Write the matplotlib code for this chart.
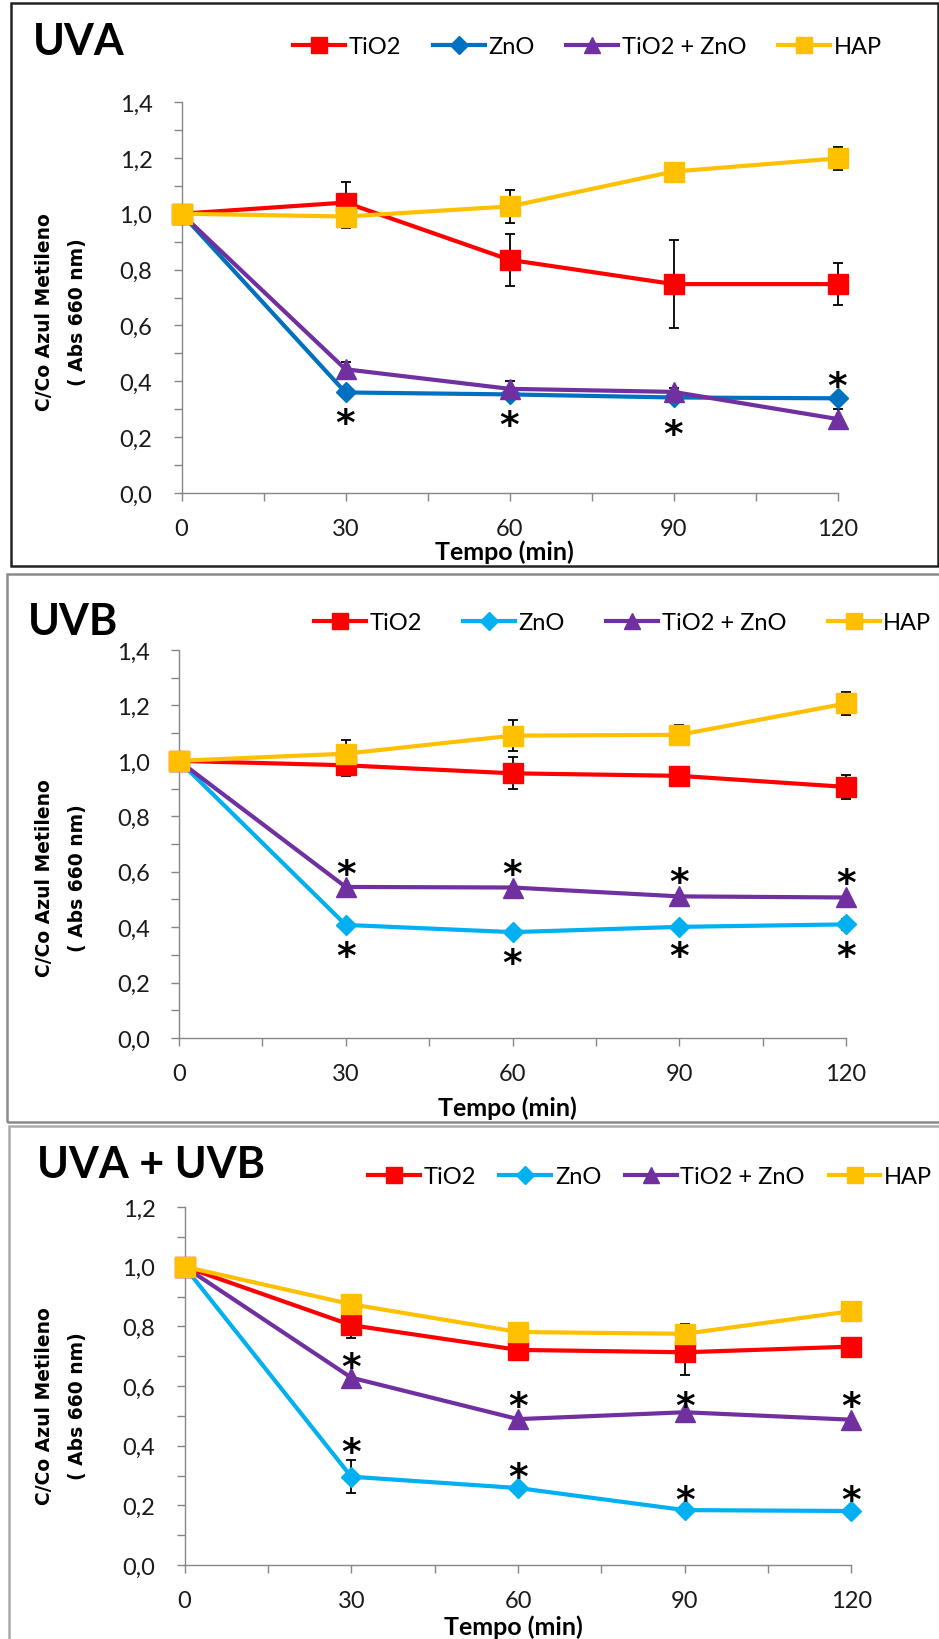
import matplotlib
matplotlib.use('Agg')
import matplotlib.pyplot as plt
from matplotlib.lines import Line2D
from matplotlib.patches import Rectangle

# time points (min)
tempo = [0, 30, 60, 90, 120]
star_x = [30, 60, 90, 120]

# UVA
uva_tio2 = [1.0, 1.04, 0.835, 0.748, 0.748]
uva_tio2_err = [0, 0.072, 0.093, 0.158, 0.075]
uva_zno = [1.0, 0.36, 0.353, 0.342, 0.339]
uva_zno_err = [0, 0, 0, 0, 0]
uva_mix = [1.0, 0.443, 0.373, 0.362, 0.265]
uva_mix_err = [0, 0.025, 0.027, 0.015, 0.035]
uva_hap = [1.0, 0.99, 1.026, 1.151, 1.198]
uva_hap_err = [0, 0.04, 0.06, 0.0, 0.04]
uva_stars = [0.285, 0.277, 0.247, 0.42]

# UVB
uvb_tio2 = [1.0, 0.984, 0.955, 0.946, 0.906]
uvb_tio2_err = [0, 0.04, 0.058, 0.012, 0.044]
uvb_zno = [1.0, 0.408, 0.382, 0.401, 0.41]
uvb_zno_err = [0, 0, 0, 0, 0.02]
uvb_mix = [1.0, 0.545, 0.543, 0.511, 0.507]
uvb_mix_err = [0, 0, 0, 0, 0]
uvb_hap = [1.0, 1.026, 1.091, 1.094, 1.207]
uvb_hap_err = [0, 0.048, 0.055, 0.035, 0.042]
uvb_stars = [0.626, 0.626, 0.597, 0.595, 0.333, 0.305, 0.333, 0.333]

# UVA + UVB
uvab_tio2 = [1.0, 0.804, 0.721, 0.713, 0.732]
uvab_tio2_err = [0, 0.043, 0, 0.076, 0]
uvab_zno = [1.0, 0.296, 0.258, 0.184, 0.181]
uvab_zno_err = [0, 0.055, 0, 0, 0]
uvab_mix = [1.0, 0.628, 0.489, 0.512, 0.487]
uvab_mix_err = [0, 0, 0, 0, 0]
uvab_hap = [1.0, 0.874, 0.781, 0.775, 0.851]
uvab_hap_err = [0, 0.028, 0, 0.032, 0]
uvab_stars = [0.696, 0.566, 0.566, 0.566, 0.413, 0.328, 0.251, 0.251]

labels = ['TiO2', 'ZnO', 'TiO2 + ZnO', 'HAP']
markers = ['s', 'D', '^', 's']
msizes = [14, 10.5, 14, 14]

W, H = 939, 1640
fig = plt.figure(figsize=(W / 100, H / 100), dpi=100)
fig.patch.set_facecolor('white')

SANS = 'Lato'
AXIS_GRAY = '#868686'


def fx(px):
    return px / W


def fy(py):
    return 1 - py / H


def comma(v, pos=None):
    return f'{v:.1f}'.replace('.', ',')


def panel(box, ymax, series, errs, colors, stars, title, title_xy,
          leg_xy, leg_gap, ylab_y, tempo_y):
    x0, x1, y0, y1 = box
    ax = fig.add_axes([fx(x0), fy(y0), fx(x1) - fx(x0), fy(y1) - fy(y0)])
    ax.set_xlim(0, 120)
    ax.set_ylim(0, ymax)
    for s in ['top', 'right']:
        ax.spines[s].set_visible(False)
    for s in ['left', 'bottom']:
        ax.spines[s].set_color(AXIS_GRAY)
        ax.spines[s].set_linewidth(1.0)
    ax.set_xticks(tempo)
    ax.set_xticks([15, 45, 75, 105], minor=True)
    yt = [i * 0.2 for i in range(int(round(ymax / 0.2)) + 1)]
    ax.set_yticks(yt)
    ax.set_yticks([i * 0.1 for i in range(int(round(ymax / 0.1)) + 1)], minor=True)
    ax.yaxis.set_major_formatter(plt.FuncFormatter(comma))
    ax.tick_params(which='both', direction='out', length=6, width=1,
                   color=AXIS_GRAY, labelsize=17, labelcolor='#1a1a1a')
    ax.tick_params(axis='y', pad=15)
    ax.tick_params(axis='x', pad=12)
    for lab in ax.get_xticklabels() + ax.get_yticklabels():
        lab.set_family(SANS)

    handles = []
    for i, (vals, err) in enumerate(zip(series, errs)):
        if any(err):
            ax.errorbar(tempo, vals, yerr=err, fmt='none', ecolor='black',
                        elinewidth=1.3, capsize=3.3, capthick=1.3,
                        zorder=1.5, clip_on=False)
        ax.plot(tempo, vals, color=colors[i], lw=3, marker=markers[i],
                ms=msizes[i], mec=colors[i], mfc=colors[i],
                zorder=2 + i, clip_on=False)
        handles.append(Line2D([], [], color=colors[i], lw=3, marker=markers[i],
                              ms=msizes[i] * 0.85, mec=colors[i], mfc=colors[i]))

    # significance marks
    n = len(star_x)
    for k, sy in enumerate(stars):
        ax.annotate('*', (star_x[k % n], sy), xytext=(0, -15),
                    textcoords='offset points', ha='center', va='baseline',
                    fontsize=27, family='DejaVu Sans', fontweight='bold',
                    color='black', zorder=10, annotation_clip=False)

    fig.text(fx(title_xy[0]), fy(title_xy[1]), title, family=SANS,
             fontweight='bold', fontsize=31, ha='left', va='center')

    fig.legend(handles, labels, loc='center left',
               bbox_to_anchor=(fx(leg_xy[0]), fy(leg_xy[1])),
               bbox_transform=fig.transFigure, ncol=4, frameon=False,
               borderpad=0, borderaxespad=0, handlelength=2.2,
               handletextpad=0.15, columnspacing=leg_gap, numpoints=1,
               prop={'family': SANS, 'size': 17})

    fig.text(fx(45), fy(ylab_y), 'C/Co Azul Metileno', rotation=90,
             family='DejaVu Sans', fontweight='bold', fontsize=13.5,
             ha='center', va='center')
    fig.text(fx(77), fy(ylab_y), '( Abs 660 nm)', rotation=90,
             family='DejaVu Sans', fontweight='bold', fontsize=13.5,
             ha='center', va='center')
    fig.text(fx((x0 + x1) / 2 - 5), fy(tempo_y), 'Tempo (min)', family=SANS,
             fontweight='bold', fontsize=18, ha='center', va='center')
    return ax


# panel frames
fig.patches.append(Rectangle((fx(11), fy(567)), fx(937.5) - fx(11), fy(4) - fy(567),
                             transform=fig.transFigure, fill=False,
                             ec='#222222', lw=1.8))
fig.patches.append(Rectangle((fx(7), fy(1123)), fx(960) - fx(7), fy(575) - fy(1123),
                             transform=fig.transFigure, fill=False,
                             ec='#8a8a8a', lw=1.8))
fig.patches.append(Rectangle((fx(9), fy(1700)), fx(960) - fx(9), fy(1127) - fy(1700),
                             transform=fig.transFigure, fill=False,
                             ec='#aaaaaa', lw=1.8))

panel((181.5, 837.5, 494, 103), 1.4,
      [uva_tio2, uva_zno, uva_mix, uva_hap],
      [uva_tio2_err, uva_zno_err, uva_mix_err, uva_hap_err],
      ['#FF0000', '#0070C0', '#7030A0', '#FFC000'],
      uva_stars, 'UVA', (33, 42), (293, 48), 1.35, 312, 552)

panel((179, 846, 1039, 651), 1.4,
      [uvb_tio2, uvb_zno, uvb_mix, uvb_hap],
      [uvb_tio2_err, uvb_zno_err, uvb_mix_err, uvb_hap_err],
      ['#FF0000', '#00B0F0', '#7030A0', '#FFC000'],
      uvb_stars, 'UVB', (28, 622), (314, 624), 1.75, 878, 1108)

panel((184.5, 851.5, 1566, 1208), 1.2,
      [uvab_tio2, uvab_zno, uvab_mix, uvab_hap],
      [uvab_tio2_err, uvab_zno_err, uvab_mix_err, uvab_hap_err],
      ['#FF0000', '#00B0F0', '#7030A0', '#FFC000'],
      uvab_stars, 'UVA + UVB', (37, 1165), (368, 1178), 1.0, 1406, 1627)

fig.savefig('out.png', dpi=100)
